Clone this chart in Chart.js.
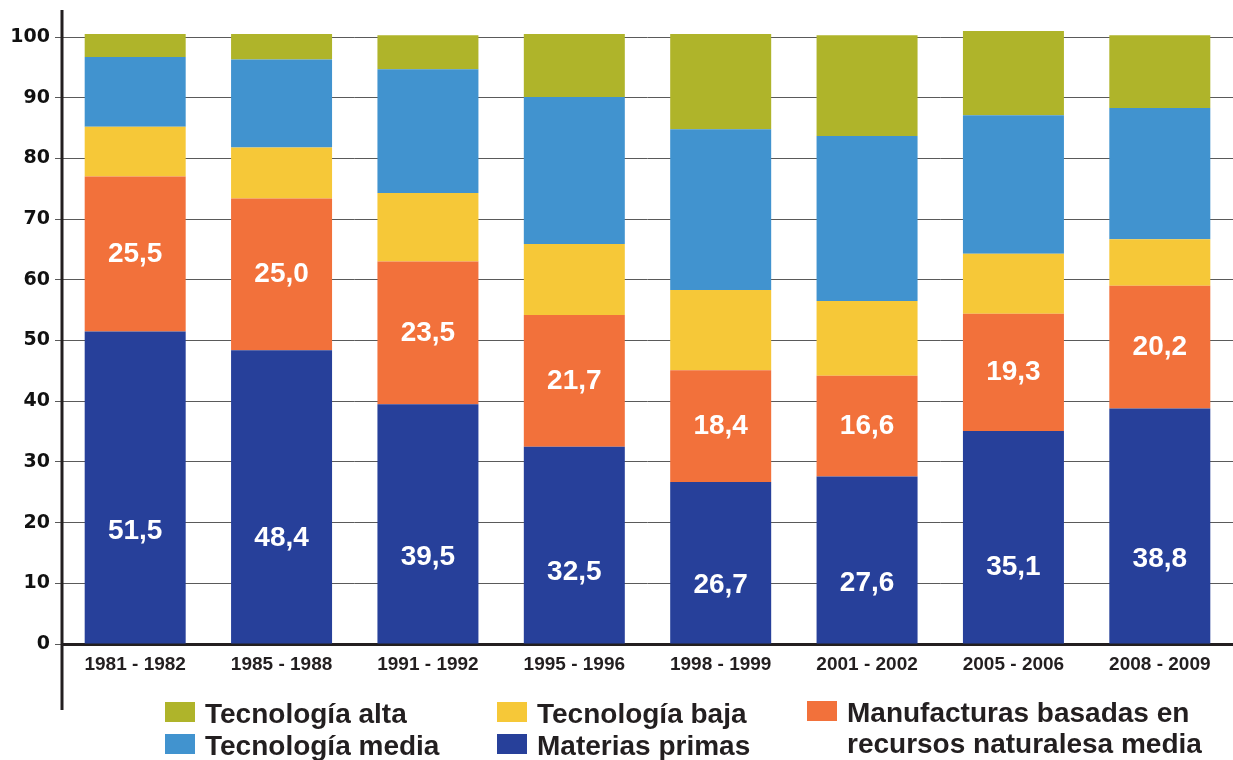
<!DOCTYPE html>
<html>
<head>
<meta charset="utf-8">
<script src="https://cdn.jsdelivr.net/npm/chart.js@4"></script>
<style>
  body { margin: 0; background: #fff; }
  .wrap { position: relative; width: 1233px; height: 760px; }
  .legend-item { position: absolute; font-family: "Liberation Sans", Arial, sans-serif; font-weight: bold; font-size: 28px; line-height: 31px; color: #231f20; white-space: nowrap; }
  .legend-item span { position: absolute; left: -40px; top: 4px; width: 30px; height: 20px; }
</style>
</head>
<body>
<div class="wrap">
  <canvas id="chart" width="1233" height="760"></canvas>
  <div id="legend"></div>
</div>
<script>
// data
const periods = ["1981 - 1982", "1985 - 1988", "1991 - 1992", "1995 - 1996", "1998 - 1999", "2001 - 2002", "2005 - 2006", "2008 - 2009"];
const materiasPrimas = [51.5, 48.4, 39.5, 32.5, 26.7, 27.6, 35.1, 38.8];
const manufacturas = [25.5, 25.0, 23.5, 21.7, 18.4, 16.6, 19.3, 20.2];
const tecBaja = [8.2, 8.4, 11.3, 11.7, 13.2, 12.3, 9.9, 7.7];
const tecMedia = [11.5, 14.5, 20.4, 24.2, 26.5, 27.2, 22.8, 21.6];
const tecAlta = [3.8, 4.2, 5.6, 10.4, 15.7, 16.6, 13.9, 12.0];
const yTicks = [0, 10, 20, 30, 40, 50, 60, 70, 80, 90, 100];

const series = [
  { label: "Materias primas", data: materiasPrimas, color: "#27409a" },
  { label: "Manufacturas basadas en<br>recursos naturalesa media", data: manufacturas, color: "#f2713b" },
  { label: "Tecnología baja", data: tecBaja, color: "#f6c838" },
  { label: "Tecnología media", data: tecMedia, color: "#4193cf" },
  { label: "Tecnología alta", data: tecAlta, color: "#afb42a" },
];

//==========================================================================
// plugins
const axisLine = {
  id: "axisLine",
  beforeDatasetsDraw(chart) {
    const ctx = chart.ctx;
    const x = chart.chartArea.left;
    ctx.save();
    ctx.strokeStyle = "#231f20";
    ctx.lineWidth = 3;
    ctx.beginPath();
    ctx.moveTo(x, 10);
    ctx.lineTo(x, 710);
    ctx.stroke();
    ctx.restore();
  },
};

const valueLabels = {
  id: "valueLabels",
  afterDatasetsDraw(chart) {
    const ctx = chart.ctx;
    ctx.save();
    ctx.fillStyle = "#fff";
    ctx.font = "bold 28px 'Liberation Sans', Arial, sans-serif";
    ctx.textAlign = "center";
    ctx.textBaseline = "middle";
    [0, 1].forEach((di) => {
      const meta = chart.getDatasetMeta(di);
      const frac = di === 0 ? 0.36 : 0.5;
      meta.data.forEach((bar, i) => {
        const v = chart.data.datasets[di].data[i];
        const y = bar.base - (bar.base - bar.y) * frac;
        ctx.fillText(v.toFixed(1).replace(".", ","), bar.x, y);
      });
    });
    ctx.restore();
  },
};

//==========================================================================
// chart
const chart = new Chart(document.getElementById("chart"), {
  type: "bar",
  data: {
    labels: periods,
    datasets: series.map((s) => ({
      label: s.label.replace("<br>", " "),
      data: s.data,
      backgroundColor: s.color,
      borderWidth: 0,
      barPercentage: 0.69,
      categoryPercentage: 1,
      clip: false,
    })),
  },
  options: {
    responsive: false,
    animation: false,
    layout: { padding: { top: 37, right: 0, bottom: 0, left: 0 } },
    scales: {
      x: {
        stacked: true,
        grid: { display: false, drawTicks: false },
        border: { display: true, color: "#231f20", width: 3 },
        ticks: {
          color: "#231f20",
          padding: 9,
          font: { family: "'Liberation Sans', Arial, sans-serif", weight: "bold", size: 19 },
        },
        afterFit(scale) {
          scale.height = 116;
        },
      },
      y: {
        stacked: true,
        min: 0,
        max: 100,
        afterBuildTicks(scale) {
          scale.ticks = yTicks.map((v) => ({ value: v }));
        },
        grid: { color: "#5a5a5a", lineWidth: 1, tickLength: 7 },
        border: { display: false },
        ticks: {
          color: "#111",
          padding: 5,
          font: { family: "'DejaVu Sans', sans-serif", weight: "bold", size: 19 },
        },
        afterFit(scale) {
          scale.width = 62;
        },
      },
    },
    plugins: {
      legend: { display: false },
      tooltip: { enabled: false },
    },
  },
  plugins: [axisLine, valueLabels],
});

//==========================================================================
// legend
const legendSpots = [
  { idx: 4, left: 205, top: 698 },
  { idx: 3, left: 205, top: 730 },
  { idx: 2, left: 537, top: 698 },
  { idx: 0, left: 537, top: 730 },
  { idx: 1, left: 847, top: 697 },
];
let legend = document.querySelector("#legend");
legendSpots.forEach((p) => {
  const s = series[p.idx];
  const el = document.createElement("div");
  el.className = "legend-item";
  el.style.left = p.left + "px";
  el.style.top = p.top + "px";
  el.innerHTML = '<span style="background:' + s.color + '"></span>' + s.label;
  legend.appendChild(el);
});
</script>
</body>
</html>
